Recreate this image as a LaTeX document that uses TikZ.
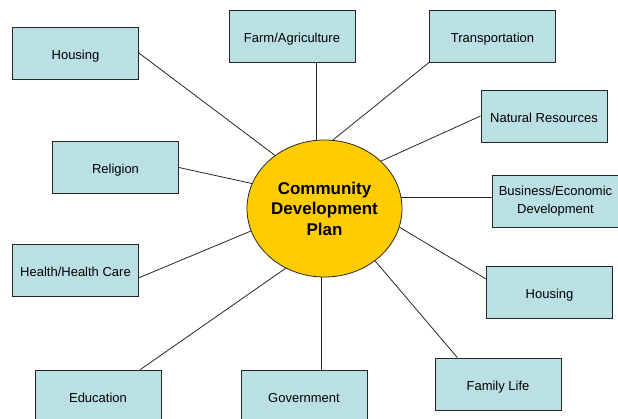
\documentclass[tikz,border=0pt]{standalone}
\usepackage{fontspec}
\setmainfont{Liberation Sans}
\usepackage{tikz}
\usetikzlibrary{shapes.geometric}
\usepackage{xcolor}

\definecolor{topicblue}{RGB}{186,224,227}
\definecolor{plangold}{RGB}{255,204,0}

\tikzset{
	topic/.style={draw=black!85, fill=topicblue, line width=0.8pt, minimum width=126pt, minimum height=52pt, inner sep=2pt, align=center, font=\fontsize{13}{18}\selectfont},
	oneline/.style={topic, text height=12.6pt, text depth=0pt},
	link/.style={draw=black!85, line width=0.8pt}
}

\begin{document}
\begin{tikzpicture}[x=1pt, y=-1pt] % community plan web
	
	\useasboundingbox (0,0) rectangle (618,418);
	
	%centre
	\node[ellipse, draw=black!85, fill=plangold, line width=0.8pt, minimum width=155pt, minimum height=137pt, inner sep=0pt, align=center, font=\bfseries\fontsize{17}{20.5}\selectfont] (plan) at (324.5,208.5) {Community\\Development\\Plan};
	
	%topics
	\node[oneline] (hl) at (75.5,53) {Housing};
	\node[oneline] (fa) at (292,36) {Farm/Agriculture};
	\node[oneline] (tr) at (492.5,36) {Transportation};
	\node[oneline] (nr) at (544,116) {Natural Resources};
	\node[topic] (be) at (555.5,201.5) {Business/Economic\\Development};
	\node[oneline] (rl) at (115.5,167.5) {Religion};
	\node[oneline] (hh) at (75.5,270) {Health/Health Care};
	\node[oneline] (ed) at (98,396) {Education};
	\node[oneline] (gv) at (304,396) {Government};
	\node[oneline] (hr) at (549.5,292.5) {Housing};
	\node[oneline] (fl) at (498,384) {Family Life};
	
	%links
	\draw[link] (plan.133) -- (hl.east);
	\draw[link] (plan.97) -- (plan.97 |- fa.south);
	\draw[link] (plan.83) -- (tr.south west);
	\draw[link] (plan.40) -- (nr.west);
	\draw[link] (plan.8) -- (plan.8 -| be.west);
	\draw[link] (plan.161) -- (rl.east);
	\draw[link] (plan.197) -- (hh.-7);
	\draw[link] (plan.237) -- (ed.32);
	\draw[link] (plan.267) -- (plan.267 |- gv.north);
	\draw[link] (plan.346) -- (hr.168);
	\draw[link] (plan.314) -- (fl.147);
	
\end{tikzpicture}
\end{document}
